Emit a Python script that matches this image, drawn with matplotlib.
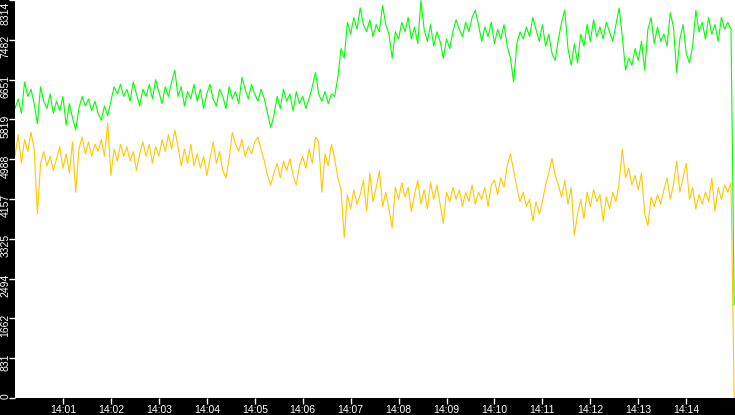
import numpy as np
import matplotlib
matplotlib.use("Agg")
import matplotlib.pyplot as plt
import matplotlib.dates as mdates
from matplotlib.transforms import ScaledTranslation

# one sample every 4 seconds, 14:00:00 .. 14:15:00
start_time = np.datetime64("2024-01-01T14:00:00")
sample_step_s = 4

green_values = [
    6050, 6250, 5950, 6600, 6300, 6450, 6150, 5730, 6500, 6200,
    6050, 6350, 5950, 6200, 6000, 6300, 5700, 6150, 5850, 5600,
    6050, 6300, 6100, 6250, 6000, 6200, 5950, 5800, 6100, 5900,
    6200, 6500, 6350, 6550, 6300, 6450, 6200, 6600, 6350, 6100,
    6450, 6300, 6550, 6250, 6650, 6400, 6150, 6500, 6300, 6600,
    6850, 6300, 6500, 6100, 6400, 6250, 6550, 6200, 6450, 6050,
    6350, 6550, 6250, 6100, 6450, 6300, 6050, 6500, 6250, 6400,
    6150, 6700, 6450, 6250, 6550, 6350, 6200, 6450, 6250, 5950,
    5650, 5900, 6300, 6050, 6450, 6200, 6350, 6000, 6400, 6150,
    6300, 6050, 6250, 6500, 6800, 6350, 6200, 6400, 6150, 6350,
    6300, 6700, 7300, 7100, 7850, 7600, 7950, 7700, 8150, 7800,
    7650, 7900, 7550, 7800, 7650, 8200, 7800, 7600, 7100, 7650,
    7500, 7850, 7650, 7950, 7500, 7750, 7400, 8300, 7700, 7450,
    7800, 7350, 7650, 7450, 7100, 7500, 7300, 7650, 7900, 7700,
    7550, 7850, 7650, 7950, 8100, 7800, 7450, 7750, 7550, 7850,
    7400, 7700, 7500, 7800, 7350, 7100, 6600, 7400, 7650, 7500,
    7750, 7550, 7950, 7700, 7450, 7800, 7350, 7600, 7200, 7050,
    7500, 7850, 8100, 7300, 6950, 7400, 7000, 7600, 7350, 7800,
    7450, 7900, 7550, 7750, 7500, 7850, 7650, 7450, 7800, 8150,
    7550, 6850, 7100, 6950, 7300, 7050, 7450, 6850, 7700, 7950,
    7400, 7750, 7450, 7600, 7350, 8050, 7750, 6800, 7500, 7800,
    7200, 7000, 7350, 8100, 7650, 7850, 7500, 7950, 7600, 7800,
    7450, 7950, 7700, 7850, 7700, 1940,
]

yellow_values = [
    5050, 5500, 4900, 5400, 5150, 5550, 5200, 3850, 4900, 5150,
    4850, 5050, 4750, 5000, 5250, 4800, 5100, 4700, 5350, 4300,
    5200, 5450, 5100, 5350, 5050, 5300, 5150, 5400, 5050, 5750,
    4650, 5200, 4950, 5300, 5050, 5250, 4950, 5150, 4750, 5100,
    5350, 5050, 5300, 4900, 5250, 5050, 5400, 5150, 5500, 5200,
    5600, 5250, 4850, 5200, 4900, 5300, 4850, 5100, 4800, 5050,
    4650, 5000, 5350, 4900, 5150, 4750, 4600, 5000, 5550, 5300,
    5150, 5400, 5050, 5250, 5100, 5350, 5450, 5200, 4950, 4650,
    4450, 4700, 4900, 4600, 4950, 4750, 5000, 4650, 4450, 4850,
    5050, 4800, 5200, 4900, 5450, 5350, 4300, 5100, 4850, 5300,
    5000, 4600, 4350, 3350, 4250, 3950, 4350, 4050, 4250, 4550,
    3900, 4700, 4100, 4400, 4750, 4000, 4300, 3950, 3550, 4400,
    4150, 4500, 4200, 4400, 3900, 4250, 4550, 4050, 4350, 3950,
    4500, 4150, 4450, 4050, 3650, 4300, 4100, 4400, 4150, 4350,
    4000, 4300, 4100, 4450, 4050, 4300, 4150, 4400, 4000, 4450,
    4550, 4250, 4600, 4400, 4850, 5100, 4750, 4400, 4100, 4300,
    4000, 4150, 3700, 4100, 3850, 4100, 4450, 4700, 5000, 4650,
    4450, 4200, 4550, 4050, 4400, 3400, 3850, 4150, 3750, 4300,
    4000, 4350, 4100, 4250, 3700, 4200, 3950, 4300, 4100, 4500,
    5200, 4600, 4800, 4450, 4650, 4350, 4700, 3850, 3600, 4200,
    4000, 4250, 4050, 4350, 4600, 4150, 4450, 4950, 4300, 4600,
    4900, 4150, 4400, 3950, 4250, 4050, 4300, 4100, 4600, 3900,
    4400, 4150, 4450, 4300, 4500, 0,
]

y_max = 8314
ytick_labels = ["0", "831", "1662", "2494", "3325", "4157",
                "4988", "5819", "6651", "7482", "8314"]
xtick_minutes = list(range(1, 15))

times = start_time + np.arange(len(green_values)) * np.timedelta64(sample_step_s, "s")
times = times.astype("datetime64[ms]").astype(object)

fig = plt.figure(figsize=(7.35, 4.15), dpi=100, facecolor="black")
ax = fig.add_axes([15 / 735, 17 / 415, 720 / 735, 398 / 415])
ax.set_facecolor("white")

ax.plot(times, yellow_values, color="#ffc800", lw=0.8)
ax.plot(times, green_values, color="#00ff00", lw=0.8)

t0 = start_time.astype("datetime64[ms]").astype(object)
t1 = (start_time + np.timedelta64(901, "s")).astype("datetime64[ms]").astype(object)
ax.set_xlim(t0, t1)
ax.set_ylim(0, y_max)

for side in ["left", "right", "top", "bottom"]:
    ax.spines[side].set_visible(False)

ax.xaxis.set_major_locator(mdates.MinuteLocator(byminute=xtick_minutes))
ax.xaxis.set_major_formatter(mdates.DateFormatter("%H:%M"))
ax.tick_params(axis="x", colors="white", direction="out", length=4, width=1,
               pad=1, labelsize=7.5)
for lbl in ax.get_xticklabels():
    lbl.set_fontfamily("Liberation Sans")

# y labels drawn by hand: rotated, hanging just above their tick
ytick_pos = np.linspace(0, y_max, len(ytick_labels))
ax.set_yticks(ytick_pos)
ax.tick_params(axis="y", colors="white", direction="out", length=4, width=1,
               labelleft=False)
for v, s in zip(ytick_pos, ytick_labels):
    dy = 5 if v < y_max else -2
    tr = ax.get_yaxis_transform() + ScaledTranslation(-4.5 / 100, dy / 100, fig.dpi_scale_trans)
    ax.text(0, v, s, transform=tr, rotation=90, ha="right", va="top",
            color="white", fontsize=7.5, family="Liberation Sans", clip_on=False)

fig.savefig("out.png", dpi=100, facecolor="black")
